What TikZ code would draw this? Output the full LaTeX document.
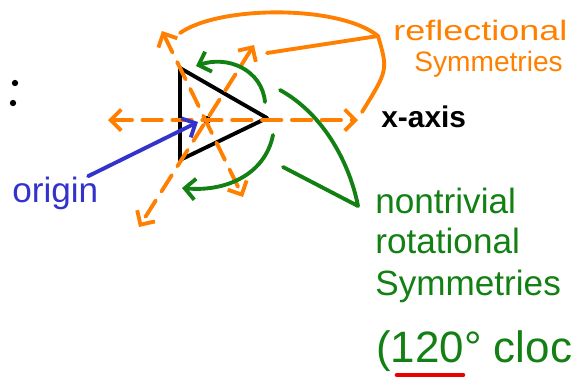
\documentclass[tikz,border=0pt]{standalone}
\usepackage{fontspec}
\setmainfont{Liberation Sans}
\usepackage{xcolor}
\usepackage{tikz}
\usetikzlibrary{arrows.meta}
\definecolor{reflcolor}{RGB}{255,128,0}
\definecolor{rotcolor}{RGB}{18,128,18}
\definecolor{origincolor}{RGB}{51,51,204}
\definecolor{markcolor}{RGB}{235,0,0}
\tikzset{
  pen/.style={
    line width=2.2pt,
    line cap=round,
    line join=round
  },
  barb/.style={
    -{Straight Barb[length=6pt,width=12pt]}
  },
  refl axis/.style={
    pen,
    draw=reflcolor,
    dash pattern=on 11pt off 6pt,
    {Straight Barb[length=6pt,width=12pt]}-{Straight Barb[length=6pt,width=12pt]}
  },
  refl line/.style={pen, draw=reflcolor},
  rot line/.style={pen, draw=rotcolor},
  dot/.style={
    circle,
    fill=black,
    inner sep=0pt,
    minimum size=3.6pt
  },
  refl label/.style={
    text=reflcolor,
    anchor=base west,
    inner sep=0pt,
    font=\fontsize{16}{16}\selectfont
  },
  rot label/.style={
    text=rotcolor,
    anchor=base west,
    inner sep=0pt,
    font=\fontsize{20}{20}\selectfont
  }
}

\begin{document}
\begin{tikzpicture}[x=0.02cm, y=-0.02cm]
  \useasboundingbox (0,0) rectangle (580,380);

  % stray colon
  \node[dot] (c1) at (15,83) {};
  \node[dot] (c2) at (13,103) {};

  % triangle
  \coordinate (A) at (180,68);
  \coordinate (B) at (267,118);
  \coordinate (C) at (180,160);
  \draw[pen, black] (A) -- (B) -- (C) -- cycle;
  \node[dot, minimum size=4.6pt] (O) at (207,120) {};

  % reflection axes
  \coordinate (L) at (108,120);
  \coordinate (R) at (358,120);
  \coordinate (UR) at (254,45);
  \coordinate (LL) at (139,227);
  \coordinate (UL) at (162,31);
  \coordinate (LR) at (243,197);
  \foreach \p/\q in {L/R, UR/LL, UL/LR}
    \draw[refl axis] (\p) -- (\q);

  % reflectional label and bracket
  \node[refl label, xscale=1.28, transform shape] (refl1) at (393,40) {reflectional};
  \node[refl label] (refl2) at (414,71) {Symmetries};
  \coordinate (ra) at (180,33);
  \coordinate (rb) at (362,112);
  \coordinate (rc) at (378,36);
  \coordinate (rd) at (267,53);
  \draw[refl line] (ra) .. controls (220,5) and (340,5) .. (rc)
    .. controls (388,70) .. (rb);
  \draw[refl line] (rd) -- (rc);

  % x-axis
  \node[anchor=base west, inner sep=0pt, font=\bfseries\fontsize{17}{17}\selectfont] (xaxis) at (381,127) {x-axis};

  % origin
  \node[anchor=base west, inner sep=0pt, text=origincolor, font=\fontsize{20}{20}\selectfont] (origin) at (12,202) {origin};
  \coordinate (ot) at (198,122);
  \draw[pen, origincolor, barb] ([xshift=-6pt]origin.north east) -- (ot);

  % rotations
  \coordinate (g1s) at (265,102);
  \coordinate (g1e) at (196,66);
  \draw[rot line, barb] (g1s) .. controls (262,70) and (228,55) .. (g1e);
  \coordinate (g2s) at (273,135);
  \coordinate (g2e) at (182,188);
  \draw[rot line, barb] (g2s) .. controls (265,175) and (225,192) .. (g2e);

  % rotational label and bracket
  \node[rot label] (rot1) at (375,213) {nontrivial};
  \node[rot label] (rot2) at (375,253) {rotational};
  \node[rot label] (rot3) at (375,295) {Symmetries};
  \node[rot label, font=\fontsize{25}{25}\selectfont] (rot4) at (376,362) {(120° cloc};
  \coordinate (gb1) at (280,90);
  \coordinate (gb2) at (358,206);
  \coordinate (gb3) at (283,167);
  \draw[rot line] (gb1) .. controls (325,115) and (350,165) .. (gb2) -- (gb3);

  % underline
  \coordinate (u1) at (397,375);
  \coordinate (u2) at (463,375);
  \draw[pen, markcolor, line width=2.6pt] (u1) -- (u2);
\end{tikzpicture}
\end{document}
